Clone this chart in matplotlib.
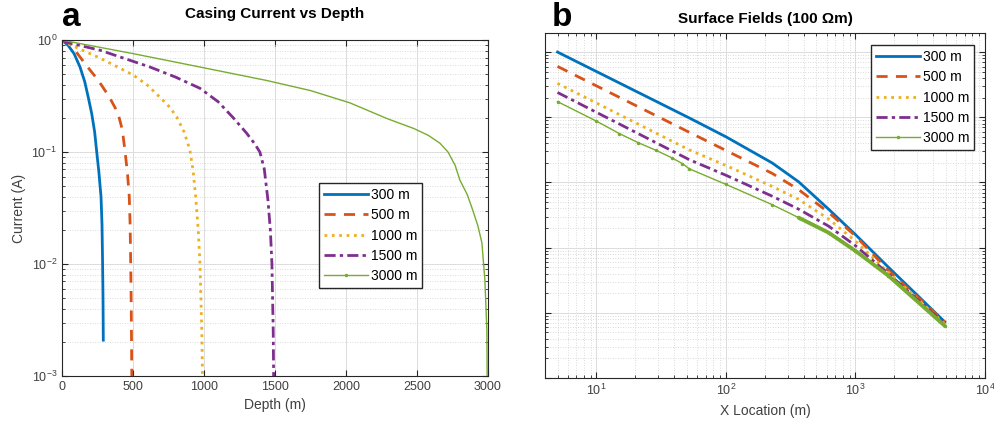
import numpy as np
import matplotlib
matplotlib.use("Agg")
import matplotlib.pyplot as plt
from matplotlib.ticker import LogLocator, NullFormatter, MultipleLocator

plt.rcParams['font.family'] = ['Liberation Sans', 'DejaVu Sans']
plt.rcParams['mathtext.default'] = 'regular'

# MATLAB default colours
c_blue = '#0072BD'
c_orange = '#D95319'
c_yellow = '#EDB120'
c_purple = '#7E2F8E'
c_green = '#77AC30'

labels = ['300 m', '500 m', '1000 m', '1500 m', '3000 m']

# (a) casing current vs depth (log10 of current)
depth_300 = [0, 42, 85, 127, 160, 185, 210, 230, 244, 260, 275, 282, 286, 289, 291]
logI_300 = [0, -0.045, -0.12, -0.24, -0.37, -0.51, -0.66, -0.82, -0.99, -1.18,
            -1.40, -1.65, -1.99, -2.3, -2.68]

depth_500 = [0, 56, 162, 256, 330, 394, 425, 444, 462, 474, 480, 484, 488, 491, 494]
logI_500 = [0, -0.03, -0.21, -0.36, -0.50, -0.65, -0.80, -0.99, -1.20, -1.40,
            -1.65, -1.99, -2.4, -2.88, -3.3]

depth_1000 = [0, 21, 268, 500, 600, 690, 760, 810, 860, 901, 925, 944, 960, 972, 985, 993]
logI_1000 = [0, -0.02, -0.16, -0.31, -0.40, -0.51, -0.60, -0.69, -0.82, -0.98,
             -1.18, -1.43, -1.7, -2.0, -2.6, -3.3]

depth_1500 = [0, 35, 268, 620, 800, 972, 1100, 1204, 1300, 1360, 1394, 1425, 1451,
              1468, 1479, 1488, 1493]
logI_1500 = [0, -0.02, -0.09, -0.24, -0.33, -0.43, -0.55, -0.69, -0.83, -0.93,
             -1.00, -1.15, -1.43, -1.7, -2.0, -2.6, -3.3]

depth_3000 = [0, 250, 500, 972, 1441, 1750, 2028, 2289, 2480, 2580, 2662, 2720,
              2770, 2803, 2855, 2894, 2930, 2958, 2979, 2993, 2995, 2997]
logI_3000 = [0, -0.06, -0.12, -0.24, -0.36, -0.45, -0.56, -0.70, -0.79, -0.85,
             -0.92, -1.00, -1.12, -1.25, -1.38, -1.52, -1.66, -1.81, -2.14, -2.59,
             -2.97, -3.3]

# (b) surface fields vs x location (log10 of field, arbitrary units)
xloc = [5, 52, 100, 227, 364, 620, 1000, 1795, 4900]
logE_300 = [-5.00, -6.01, -6.30, -6.70, -6.99, -7.41, -7.80, -8.30, -9.14]
logE_500 = [-5.22, -6.23, -6.51, -6.86, -7.11, -7.46, -7.82, -8.35, -9.14]
logE_1000 = [-5.48, -6.50, -6.74, -7.06, -7.26, -7.56, -7.90, -8.38, -9.17]
logE_1500 = [-5.62, -6.65, -6.89, -7.21, -7.41, -7.67, -7.97, -8.40, -9.17]

xloc_3000 = [5, 10, 15, 21, 29, 38, 46, 52, 100, 227, 364, 620, 1000, 1795, 4900]
logE_3000 = [-5.76, -6.06, -6.25, -6.39, -6.51, -6.62, -6.71, -6.79, -7.03,
             -7.34, -7.54, -7.77, -8.05, -8.43, -9.20]

fig = plt.figure(figsize=(9.95, 4.30), dpi=100)
ax1 = fig.add_axes([0.0623, 0.1256, 0.428, 0.781])
ax2 = fig.add_axes([0.5477, 0.1209, 0.4422, 0.802])

styles = [
    dict(color=c_blue, ls='-', lw=2.0),
    dict(color=c_orange, ls='--', lw=2.0, dashes=(4, 3)),
    dict(color=c_yellow, ls=':', lw=2.0),
    dict(color=c_purple, ls='-.', lw=2.0, dashes=(4, 1.5, 1.2, 1.5)),
    dict(color=c_green, ls='-', lw=1.0, marker='.', ms=3),
]

left_data = [(depth_300, logI_300), (depth_500, logI_500), (depth_1000, logI_1000),
             (depth_1500, logI_1500), (depth_3000, logI_3000)]
for (z, lg), st, lab in zip(left_data, styles, labels):
    st = dict(st)
    if lab == '3000 m':
        # only the (clipped) last point carries a marker, so the legend shows it
        st['markevery'] = [-1]
    ax1.plot(z, 10 ** np.array(lg), label=lab, **st)

ax1.set_yscale('log')
ax1.set_xlim(0, 3000)
ax1.set_ylim(1e-3, 1)
ax1.xaxis.set_major_locator(MultipleLocator(500))
ax1.yaxis.set_major_locator(LogLocator(base=10, numticks=10))
ax1.yaxis.set_minor_locator(LogLocator(base=10, subs=np.arange(2, 10), numticks=20))
ax1.yaxis.set_minor_formatter(NullFormatter())
ax1.grid(True, which='major', color='#dcdcdc', lw=0.7, ls='-')
ax1.grid(True, which='minor', axis='y', color='#cfcfcf', lw=0.6, ls=(0, (1, 2)))
ax1.set_axisbelow(True)
ax1.set_xlabel('Depth (m)', fontsize=10, color='#404040')
ax1.set_ylabel('Current (A)', fontsize=10, color='#404040')
ax1.set_title('Casing Current vs Depth', fontsize=11, fontweight='bold', pad=16)
ax1.legend(loc='upper left', bbox_to_anchor=(0.603, 0.574), fontsize=10,
           handlelength=3.2, fancybox=False, framealpha=1, edgecolor='#262626',
           borderpad=0.35, labelspacing=0.45, handletextpad=0.2, borderaxespad=0)

# right panel
right_data = [logE_300, logE_500, logE_1000, logE_1500]
for lg, st, lab in zip(right_data, styles[:4], labels[:4]):
    ax2.plot(xloc, 10 ** np.array(lg), label=lab, **st)
ax2.plot(xloc_3000, 10 ** np.array(logE_3000), label=labels[4], **styles[4])
# dense markers on the far end make the green line look heavier there
ax2.plot(xloc_3000[10:], 10 ** np.array(logE_3000[10:]), color=c_green, lw=2.8,
         solid_capstyle='round')

ax2.set_xscale('log')
ax2.set_yscale('log')
ax2.set_xlim(4, 1e4)
ax2.set_ylim(1e-10, 10 ** -4.71)
ax2.xaxis.set_major_locator(LogLocator(base=10, numticks=10))
ax2.xaxis.set_minor_locator(LogLocator(base=10, subs=np.arange(2, 10), numticks=20))
ax2.xaxis.set_minor_formatter(NullFormatter())
ax2.yaxis.set_major_locator(LogLocator(base=10, numticks=10))
ax2.yaxis.set_minor_locator(LogLocator(base=10, subs=np.arange(2, 10), numticks=20))
ax2.yaxis.set_major_formatter(NullFormatter())
ax2.yaxis.set_minor_formatter(NullFormatter())
ax2.grid(True, which='major', color='#dcdcdc', lw=0.7, ls='-')
ax2.grid(True, which='minor', color='#cfcfcf', lw=0.6, ls=(0, (1, 2)))
ax2.set_axisbelow(True)
ax2.set_xlabel('X Location (m)', fontsize=10, color='#404040')
ax2.set_title('Surface Fields (100 Ωm)', fontsize=11, fontweight='bold', pad=7)
ax2.legend(loc='upper left', bbox_to_anchor=(0.741, 0.965), fontsize=10,
           handlelength=3.2, fancybox=False, framealpha=1, edgecolor='#262626',
           borderpad=0.35, labelspacing=0.45, handletextpad=0.2, borderaxespad=0)

for ax in (ax1, ax2):
    for sp in ax.spines.values():
        sp.set_color('#262626')
        sp.set_linewidth(0.8)
    ax.tick_params(which='both', direction='in', top=True, right=True,
                   colors='#262626', labelcolor='#404040', labelsize=9)
    ax.tick_params(which='major', length=4)
    ax.tick_params(which='minor', length=2)

# panel letters
fig.text(0.062, 1 - 26 / 430, 'a', fontsize=24, fontweight='bold', va='baseline')
fig.text(0.555, 1 - 26 / 430, 'b', fontsize=24, fontweight='bold', va='baseline')

fig.savefig('out.png', dpi=100)
